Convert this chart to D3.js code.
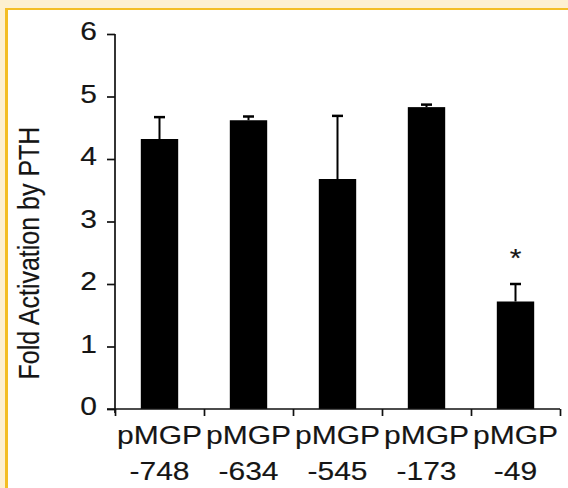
<!DOCTYPE html>
<html><head><meta charset="utf-8">
<script src="https://cdn.jsdelivr.net/npm/d3@7"></script>
<style>body{margin:0;background:#fff}svg{display:block}text{font-family:"Liberation Sans",Arial,sans-serif;fill:#151515;stroke:#151515;stroke-width:0.15px}</style>
</head><body><svg id="c" width="568" height="488"></svg>
<script>
const categories = ["pMGP -748","pMGP -634","pMGP -545","pMGP -173","pMGP -49"];
const labelLine1 = ["pMGP","pMGP","pMGP","pMGP","pMGP"];
const labelLine2 = ["-748","-634","-545","-173","-49"];
const values = [4.32, 4.62, 3.68, 4.83, 1.72];
const errors = [0.35, 0.06, 1.01, 0.04, 0.28];
const significant = [false, false, false, false, true];
const yTicks = [0,1,2,3,4,5,6];
const yTitle = "Fold Activation by PTH";

(function(){
const svg = d3.select("#c");
// frame
svg.append("rect").attr("width",568).attr("height",488).attr("fill","#fdf0d0");
svg.append("rect").attr("x",7).attr("y",10).attr("width",561).attr("height",478).attr("fill","#fff");
svg.append("rect").attr("x",5).attr("y",8).attr("width",563).attr("height",2).attr("fill","#f4be25");
svg.append("rect").attr("x",5).attr("y",8).attr("width",3).attr("height",480).attr("fill","#f4be25");

const mLeft = 115, mRight = 560, mTop = 34, mBottom = 409;
const sx = 1.2;
const fs = 25;
const y = d3.scaleLinear().domain([0,6]).range([mBottom, mTop]);
const x = d3.scaleBand().domain(categories).range([mLeft, mRight]).paddingInner(0).paddingOuter(0);
const xb = d3.scaleLinear().domain([0, categories.length]).range([mLeft, mRight]);
const barW = x.bandwidth() * 0.42;

// bars
svg.selectAll("rect.bar").data(categories).join("rect").attr("class","bar")
  .attr("x", (d,i) => x(d) + x.bandwidth()/2 - barW/2)
  .attr("width", barW)
  .attr("y", (d,i) => y(values[i]))
  .attr("height", (d,i) => y(0) - y(values[i]))
  .attr("fill", "#000");

// error bars
const eg = svg.append("g").attr("stroke","#000").attr("stroke-width",2);
categories.forEach((c,i) => {
  const cx = x(c) + x.bandwidth()/2;
  eg.append("line").attr("x1",cx).attr("x2",cx).attr("y1",y(values[i])).attr("y2",y(values[i]+errors[i]));
  eg.append("line").attr("x1",cx-5.5).attr("x2",cx+5.5).attr("y1",y(values[i]+errors[i])).attr("y2",y(values[i]+errors[i])).attr("stroke-width",2.5);
  if (significant[i]) {
    svg.append("g").attr("transform",`translate(${cx},${y(values[i]+errors[i]) - 17}) scale(${sx},1)`)
      .append("text").attr("text-anchor","middle").attr("font-size",25).text("*");
  }
});

// y axis
const ya = svg.append("g").attr("transform",`translate(${mLeft},0)`)
  .call(d3.axisLeft(y).tickValues(yTicks).tickSize(8).tickSizeOuter(0).tickFormat(d3.format("d")));
ya.select(".domain").attr("stroke","#111").attr("stroke-width",1.7).attr("d",`M0,${mTop}V${mBottom+4}`);
ya.selectAll(".tick line").attr("stroke","#111").attr("stroke-width",1.7);
ya.selectAll(".tick text").attr("x",0).attr("dy",null).attr("font-size",fs).attr("fill","#151515")
  .attr("font-family","Liberation Sans, Arial, sans-serif")
  .attr("transform",`translate(-18,5.5) scale(${sx},1)`);

// x axis (boundary ticks)
const xa = svg.append("g").attr("transform",`translate(0,${mBottom})`)
  .call(d3.axisBottom(xb).tickValues(d3.range(categories.length+1)).tickSize(7).tickSizeOuter(0).tickFormat(""));
xa.select(".domain").attr("stroke","#111").attr("stroke-width",1.7).attr("d",`M${mLeft-8},0H${mRight}`);
xa.selectAll(".tick line").attr("stroke","#111").attr("stroke-width",1.7);

// x labels
const xl = svg.append("g");
categories.forEach((c,i) => {
  const cx = x(c) + x.bandwidth()/2;
  xl.append("g").attr("transform",`translate(${cx},444) scale(${sx},1)`)
    .append("text").attr("text-anchor","middle").attr("font-size",fs).text(labelLine1[i]);
  xl.append("g").attr("transform",`translate(${cx},480) scale(${sx},1)`)
    .append("text").attr("text-anchor","middle").attr("font-size",fs).text(labelLine2[i]);
});

// y title
svg.append("g").attr("transform",`translate(39,253) scale(${sx},1) rotate(-90)`)
  .append("text").attr("text-anchor","middle").attr("font-size",25).text(yTitle);
})();
</script></body></html>
